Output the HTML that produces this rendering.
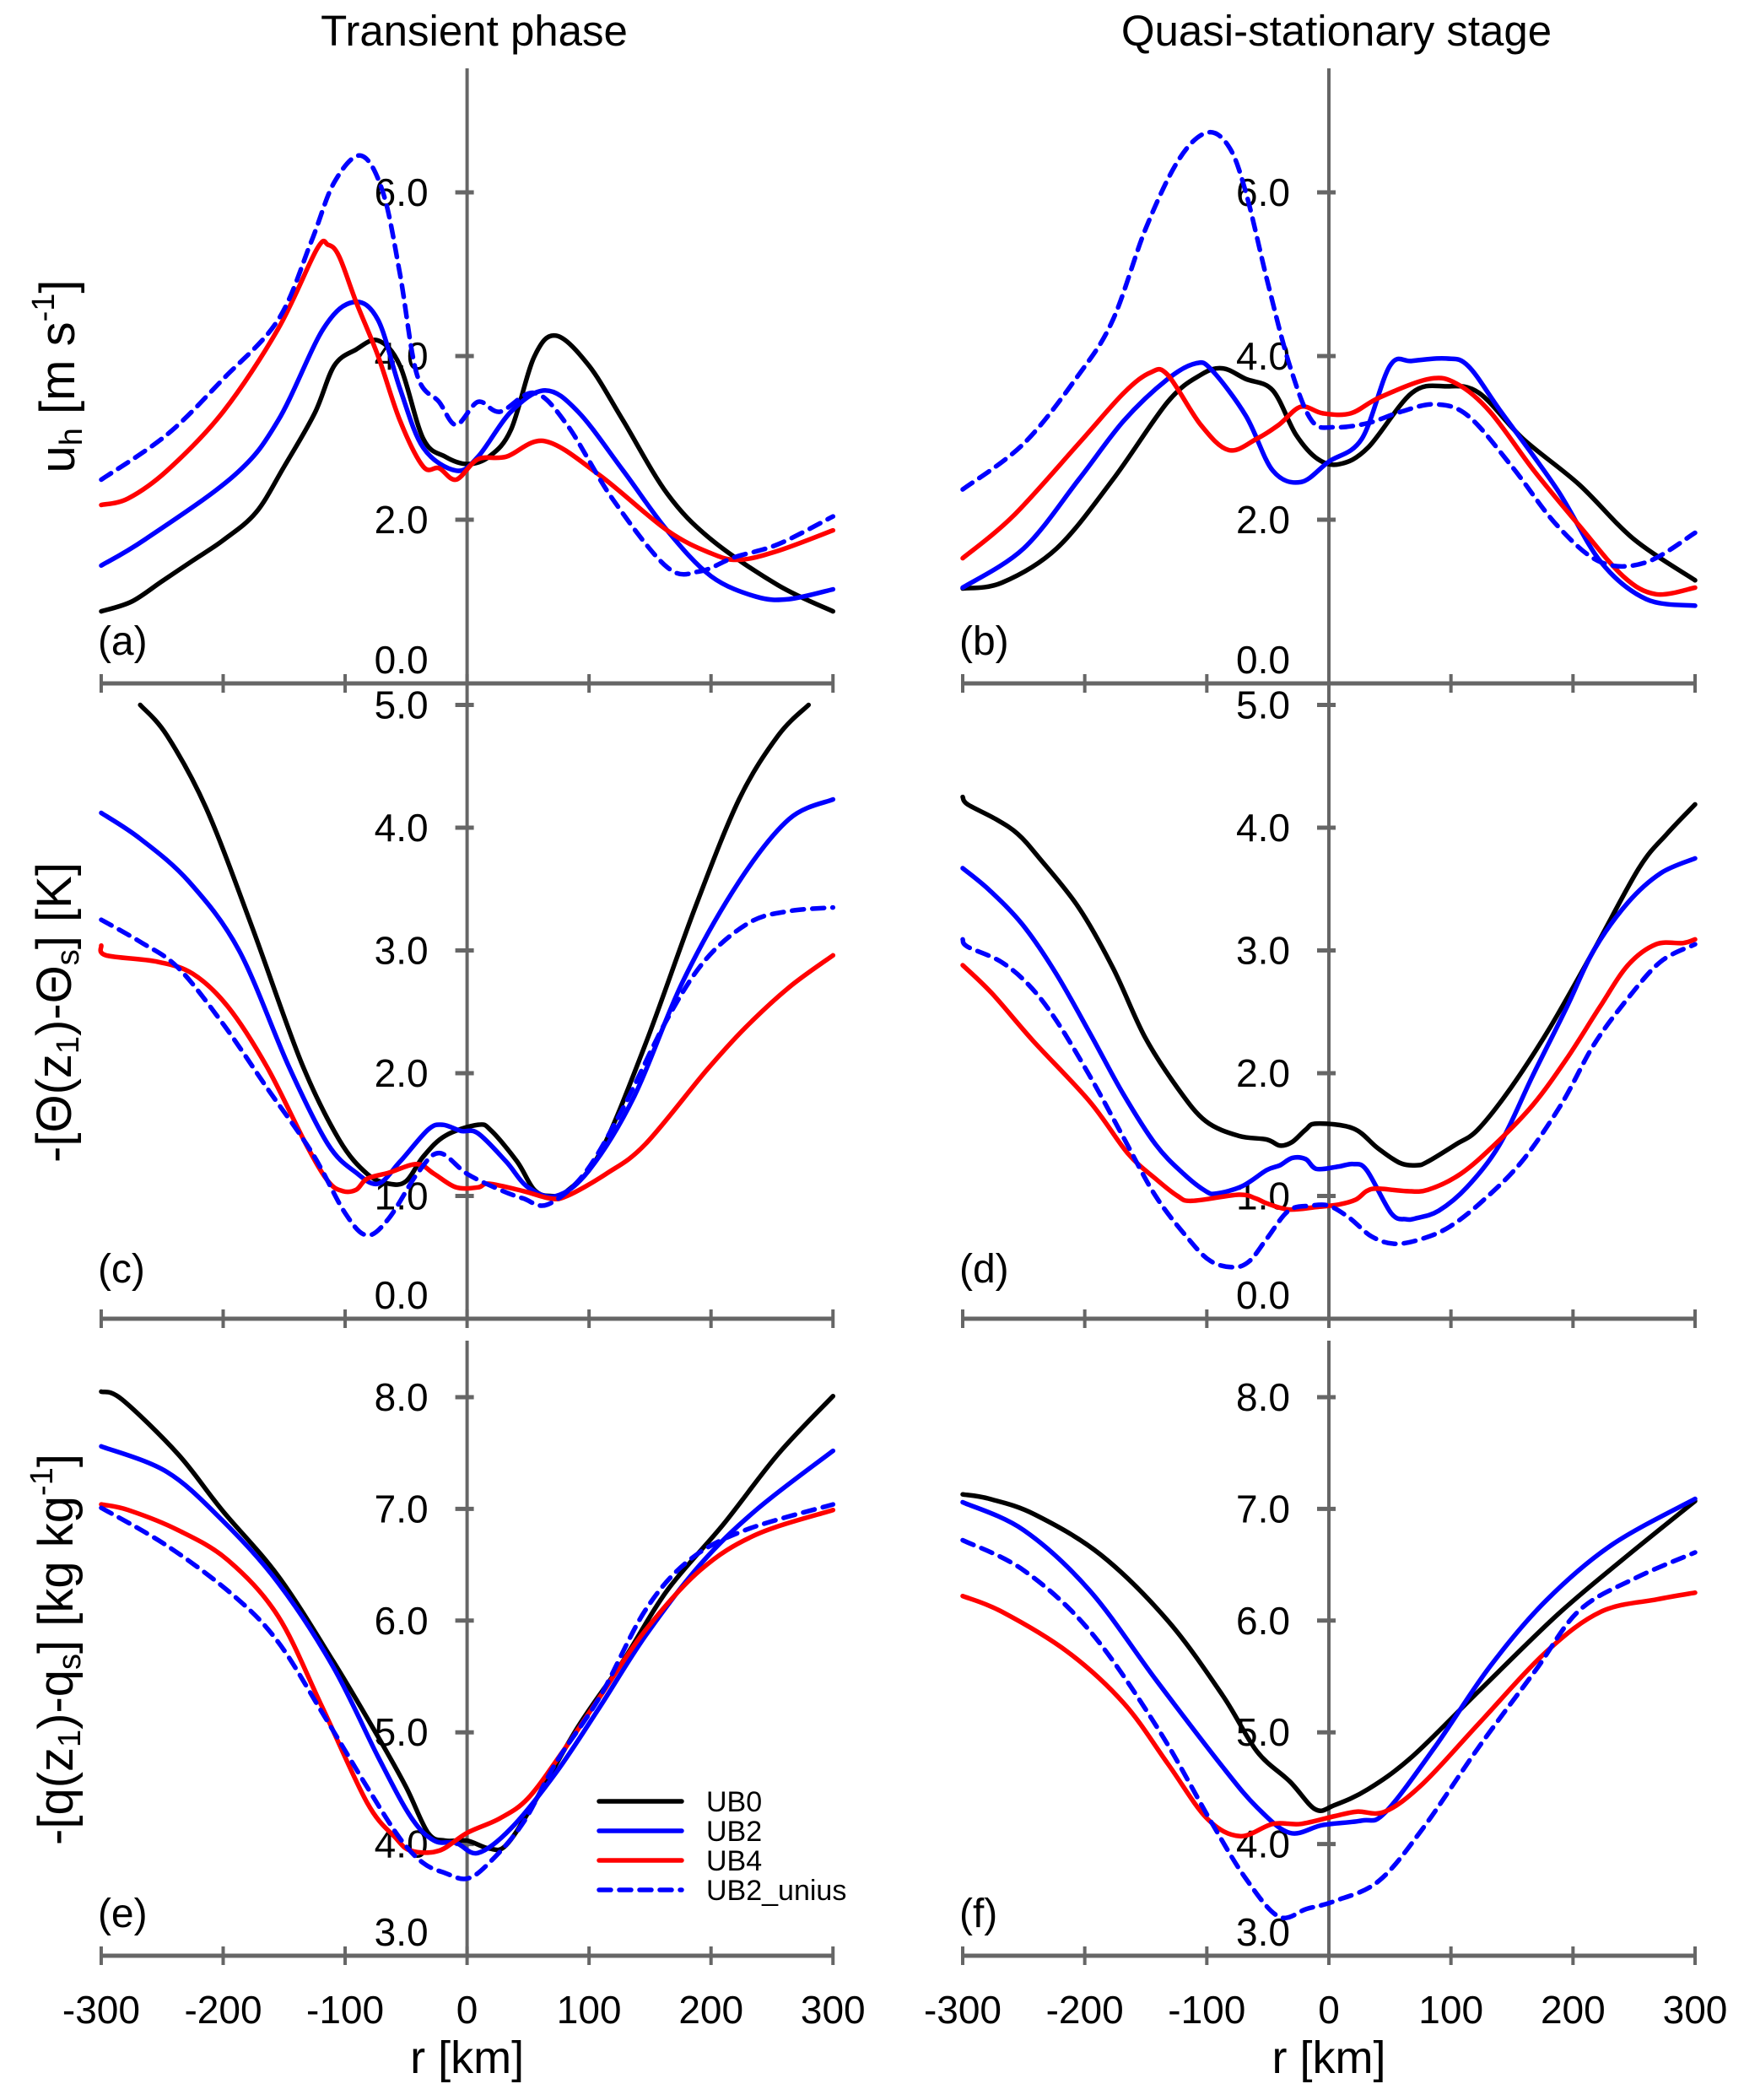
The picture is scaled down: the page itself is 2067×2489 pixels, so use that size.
<!DOCTYPE html>
<html><head><meta charset="utf-8">
<style>
html,body{margin:0;padding:0;background:#fff;}
svg{display:block;font-family:"Liberation Sans",Arial,sans-serif;}
</style></head>
<body>
<svg id="fig" width="2067" height="2489" viewBox="0 0 2067 2489" xmlns="http://www.w3.org/2000/svg">
<text x="562" y="54" font-size="51" text-anchor="middle">Transient phase</text>
<text x="1584" y="54" font-size="51" text-anchor="middle">Quasi-stationary stage</text>
<text transform="translate(88,446) rotate(-90)" font-size="58" text-anchor="middle">u<tspan font-size="38" dy="9">h</tspan><tspan dy="-9"> [m s</tspan><tspan font-size="38" dy="-24">-1</tspan><tspan dy="24">]</tspan></text>
<text transform="translate(84,1200) rotate(-90)" font-size="58" text-anchor="middle">-[Θ(z<tspan font-size="38" dy="9">1</tspan><tspan dy="-9">)-Θ</tspan><tspan font-size="38" dy="9">s</tspan><tspan dy="-9">] [K]</tspan></text>
<text transform="translate(86,1955) rotate(-90)" font-size="58" text-anchor="middle">-[q(z<tspan font-size="38" dy="9">1</tspan><tspan dy="-9">)-q</tspan><tspan font-size="38" dy="9">s</tspan><tspan dy="-9">] [kg kg</tspan><tspan font-size="38" dy="-24">-1</tspan><tspan dy="24">]</tspan></text>
<g id="panels"></g>
<g>
 <line x1="710" y1="2135" x2="808" y2="2135" stroke="#000" stroke-width="5.5" stroke-linecap="round"/>
 <text x="837" y="2147" font-size="34">UB0</text>
 <line x1="710" y1="2170" x2="808" y2="2170" stroke="#0000ff" stroke-width="5.5" stroke-linecap="round"/>
 <text x="837" y="2182" font-size="34">UB2</text>
 <line x1="710" y1="2205" x2="808" y2="2205" stroke="#ff0000" stroke-width="5.5" stroke-linecap="round"/>
 <text x="837" y="2217" font-size="34">UB4</text>
 <line x1="710" y1="2240" x2="808" y2="2240" stroke="#0000ff" stroke-width="5.5" stroke-dasharray="14 10" stroke-linecap="round"/>
 <text x="837" y="2252" font-size="34">UB2_unius</text>
</g>
</svg>
<script>
// x ticks
const xTicks = [-300,-200,-100,0,100,200,300];
const xTickLabels = ["-300","-200","-100","0","100","200","300"];
// y ticks per row
const yTicksA = [0,2,4,6];
const yTicksC = [0,1,2,3,4,5];
const yTicksE = [3,4,5,6,7,8];

// Panel a (transient, u_h)
const aR0 = [-300,-275,-250,-225,-200,-173,-150,-125,-109,-91,-73,-55,-36,-18,0,18,36,55,73,100,128,164,200,255,300];
const aV0 = [0.88,1.0,1.25,1.5,1.75,2.09,2.65,3.3,3.88,4.08,4.19,3.88,2.99,2.77,2.68,2.77,3.1,3.99,4.25,3.88,3.21,2.32,1.76,1.2,0.88];
const aR2 = [-300,-264,-191,-155,-118,-93,-73,-55,-36,-9,9,36,64,91,128,164,200,237,264,300];
const aV2 = [1.44,1.76,2.54,3.21,4.33,4.66,4.44,3.6,2.88,2.6,2.77,3.32,3.58,3.32,2.6,1.87,1.31,1.06,1.03,1.15];
const aR4 = [-300,-278,-246,-200,-155,-123,-114,-105,-91,-73,-55,-36,-23,-9,9,32,64,109,164,200,223,255,300];
const aV4 = [2.18,2.26,2.6,3.32,4.33,5.31,5.36,5.22,4.66,4.0,3.21,2.65,2.63,2.49,2.74,2.77,2.96,2.54,1.87,1.59,1.51,1.62,1.87];
const aRu = [-300,-246,-200,-155,-128,-109,-87,-69,-55,-41,-23,-9,9,27,55,82,119,164,191,219,255,300];
const aVu = [2.49,3.04,3.72,4.44,5.39,6.12,6.45,6.0,5.0,3.77,3.44,3.16,3.44,3.32,3.55,3.16,2.26,1.42,1.37,1.54,1.7,2.04];

// Panel b (quasi-stationary, u_h)
const bR0 = [-300,-268,-223,-177,-132,-105,-87,-68,-46,-27,-9,9,32,68,96,123,159,205,250,300];
const bV0 = [1.16,1.23,1.65,2.49,3.44,3.77,3.85,3.72,3.58,3.04,2.74,2.68,2.88,3.55,3.63,3.55,2.99,2.43,1.76,1.26];
const bR2 = [-300,-250,-205,-168,-132,-109,-96,-68,-46,-23,0,27,50,68,96,114,141,187,223,260,300];
const bV2 = [1.17,1.65,2.49,3.21,3.72,3.91,3.83,3.27,2.6,2.46,2.71,2.99,3.88,3.94,3.97,3.88,3.32,2.37,1.48,1.03,0.95];
const bR4 = [-300,-259,-205,-168,-146,-132,-105,-82,-59,-41,-23,-5,18,41,82,105,132,168,205,241,268,300];
const bV4 = [1.53,2.04,2.93,3.55,3.8,3.77,3.16,2.85,2.99,3.16,3.38,3.3,3.3,3.49,3.72,3.66,3.32,2.6,1.93,1.31,1.09,1.17];
const bRu = [-300,-250,-205,-177,-150,-123,-100,-82,-68,-50,-32,-14,5,32,59,87,114,150,187,223,260,300];
const bVu = [2.37,2.93,3.77,4.44,5.56,6.4,6.73,6.56,6.0,4.89,3.88,3.21,3.13,3.18,3.32,3.41,3.27,2.65,1.93,1.48,1.48,1.84];

// Panel c (transient, theta)
const cR0 = [-268,-246,-214,-177,-136,-105,-82,-64,-50,-36,-18,9,20,41,55,68,82,109,146,187,223,255,280];
const cV0 = [5.0,4.75,4.16,3.21,2.09,1.46,1.18,1.1,1.12,1.32,1.49,1.58,1.53,1.28,1.05,1.0,1.04,1.35,2.23,3.35,4.23,4.75,5.0];
const cR2 = [-300,-268,-228,-187,-146,-114,-91,-73,-55,-32,-20,-5,9,32,50,73,100,137,177,223,264,300];
const cV2 = [4.12,3.91,3.56,3.0,2.05,1.42,1.19,1.1,1.28,1.54,1.58,1.53,1.51,1.28,1.07,1.0,1.21,1.81,2.75,3.56,4.07,4.23];
const cR4 = [-300,-296,-255,-225,-196,-164,-132,-114,-102,-91,-82,-64,-41,-27,-9,9,18,46,68,82,114,146,196,228,264,300];
const cV4 = [3.04,2.96,2.91,2.81,2.54,2.05,1.42,1.12,1.04,1.05,1.14,1.19,1.26,1.18,1.07,1.07,1.1,1.04,0.98,1.0,1.18,1.42,2.02,2.37,2.7,2.96];
const cRu = [-300,-268,-237,-200,-164,-127,-100,-82,-64,-41,-23,0,27,46,66,96,127,164,196,232,264,300];
const cVu = [3.25,3.07,2.86,2.4,1.88,1.35,0.86,0.68,0.82,1.18,1.35,1.18,1.05,0.98,0.93,1.18,1.7,2.44,2.93,3.23,3.32,3.35];

// Panel d (quasi-stationary, theta)
const dR0 = [-300,-296,-273,-255,-237,-205,-177,-151,-124,-101,-74,-51,-40,-30,-19,-10,20,40,58,72,81,104,122,149,181,217,254,277,300];
const dV0 = [4.25,4.19,4.07,3.95,3.75,3.35,2.86,2.3,1.88,1.61,1.49,1.46,1.41,1.44,1.54,1.59,1.55,1.39,1.27,1.25,1.28,1.42,1.54,1.88,2.37,3.0,3.67,3.95,4.19];
const dR2 = [-300,-278,-251,-224,-196,-169,-142,-119,-101,-92,-71,-51,-40,-30,-19,-10,8,20,31,51,63,72,90,113,140,167,195,217,245,272,300];
const dV2 = [3.67,3.49,3.21,2.82,2.33,1.84,1.42,1.18,1.04,1.02,1.08,1.21,1.25,1.31,1.3,1.22,1.24,1.26,1.21,0.86,0.81,0.82,0.88,1.07,1.42,1.98,2.54,3.0,3.39,3.63,3.75];
const dR4 = [-300,-276,-242,-196,-165,-142,-124,-112,-74,-60,-51,-33,-10,8,22,31,40,63,81,108,136,167,195,222,245,268,290,300];
const dV4 = [2.88,2.65,2.26,1.77,1.35,1.14,1.0,0.96,1.01,0.98,0.94,0.89,0.91,0.93,0.97,1.04,1.06,1.04,1.05,1.18,1.42,1.74,2.12,2.54,2.88,3.05,3.06,3.09];
const dRu = [-300,-296,-269,-246,-224,-196,-169,-142,-115,-97,-78,-65,-51,-33,-15,0,17,35,54,76,99,126,158,190,217,245,272,300];
const dVu = [3.09,3.03,2.91,2.72,2.44,1.98,1.49,1.0,0.65,0.47,0.42,0.47,0.65,0.88,0.92,0.92,0.82,0.67,0.61,0.65,0.75,0.96,1.28,1.74,2.23,2.61,2.91,3.05];

// Panel e (transient, q)
const eR0 = [-300,-283,-237,-201,-155,-110,-73,-50,-32,-18,0,18,32,55,91,128,164,210,255,300];
const eV0 = [8.05,7.98,7.49,6.99,6.4,5.64,4.96,4.51,4.1,4.03,4.03,3.96,3.99,4.37,5.05,5.64,6.27,6.86,7.49,8.01];
const eR2 = [-300,-246,-201,-155,-110,-73,-46,-27,-9,9,36,73,109,146,191,237,300];
const eV2 = [7.56,7.33,6.9,6.34,5.59,4.78,4.24,4.03,4.01,3.92,4.14,4.64,5.23,5.86,6.5,6.99,7.52];
const eR4 = [-300,-278,-237,-196,-155,-119,-82,-59,-46,-23,0,27,50,78,109,146,191,237,300];
const eV4 = [7.04,6.99,6.81,6.54,6.04,5.23,4.37,4.06,3.94,3.94,4.1,4.23,4.41,4.82,5.32,5.91,6.45,6.77,6.99];
const eRu = [-300,-246,-191,-155,-119,-82,-55,-36,-18,0,18,46,73,109,146,182,228,300];
const eVu = [7.01,6.67,6.22,5.81,5.18,4.51,4.05,3.83,3.74,3.69,3.83,4.19,4.73,5.32,6.09,6.54,6.81,7.04];

// Panel f (quasi-stationary, q)
const fR0 = [-300,-278,-241,-187,-132,-87,-59,-32,-11,5,32,68,123,187,241,300];
const fV0 = [7.13,7.09,6.95,6.59,6.0,5.33,4.83,4.56,4.31,4.35,4.49,4.78,5.37,6.05,6.55,7.07];
const fR2 = [-300,-250,-196,-141,-87,-59,-32,-5,27,46,87,132,178,232,300];
const fV2 = [7.06,6.81,6.27,5.46,4.69,4.33,4.1,4.17,4.21,4.28,4.87,5.59,6.18,6.68,7.09];
const fR4 = [-300,-268,-214,-168,-132,-100,-73,-46,-23,5,23,46,77,123,178,223,269,300];
const fV4 = [6.22,6.08,5.72,5.26,4.72,4.23,4.07,4.18,4.18,4.25,4.29,4.29,4.54,5.08,5.72,6.08,6.19,6.25];
const fRu = [-300,-250,-196,-141,-96,-68,-41,-18,5,41,77,123,169,205,251,300];
const fVu = [6.72,6.45,5.91,5.05,4.19,3.69,3.35,3.42,3.49,3.67,4.14,4.87,5.55,6.09,6.38,6.61];

const NS = "http://www.w3.org/2000/svg";
const root = document.getElementById("panels");
function mk(tag, attrs, parent){
  const e = document.createElementNS(NS, tag);
  for (const k in attrs) e.setAttribute(k, attrs[k]);
  parent.appendChild(e);
  return e;
}
function smoothPath(pts){
  let d = "M" + pts[0][0].toFixed(1) + " " + pts[0][1].toFixed(1);
  for (let i = 0; i < pts.length - 1; i++) {
    const p0 = pts[i-1] || pts[i], p1 = pts[i], p2 = pts[i+1], p3 = pts[i+2] || p2;
    const c1x = p1[0] + (p2[0]-p0[0])/6, c1y = p1[1] + (p2[1]-p0[1])/6;
    const c2x = p2[0] - (p3[0]-p1[0])/6, c2y = p2[1] - (p3[1]-p1[1])/6;
    d += " C" + c1x.toFixed(1) + " " + c1y.toFixed(1) + " " + c2x.toFixed(1) + " " + c2y.toFixed(1) + " " + p2[0].toFixed(1) + " " + p2[1].toFixed(1);
  }
  return d;
}
const cols = [{x0:553.6, k:1.4455}, {x0:1575, k:1.4467}];
const rows = [
  {y0:810, ppu:97, vmin:0, top:81, ticks:yTicksA},
  {y0:1563, ppu:145.5, vmin:0, top:821, ticks:yTicksC},
  {y0:2318, ppu:132.4, vmin:3, top:1589, ticks:yTicksE}
];
const panels = [
  {id:"a", row:0, col:0, s:[[aR0,aV0],[aR2,aV2],[aR4,aV4],[aRu,aVu]]},
  {id:"b", row:0, col:1, s:[[bR0,bV0],[bR2,bV2],[bR4,bV4],[bRu,bVu]]},
  {id:"c", row:1, col:0, s:[[cR0,cV0],[cR2,cV2],[cR4,cV4],[cRu,cVu]]},
  {id:"d", row:1, col:1, s:[[dR0,dV0],[dR2,dV2],[dR4,dV4],[dRu,dVu]]},
  {id:"e", row:2, col:0, s:[[eR0,eV0],[eR2,eV2],[eR4,eV4],[eRu,eVu]]},
  {id:"f", row:2, col:1, s:[[fR0,fV0],[fR2,fV2],[fR4,fV4],[fRu,fVu]]}
];
const styles = [
  {c:"#000", d:null, n:"ub0"},
  {c:"#0000ff", d:null, n:"ub2"},
  {c:"#ff0000", d:null, n:"ub4"},
  {c:"#0000ff", d:"14 10", n:"ub2-unius"}
];
const AX = "#666";
panels.forEach(p => {
  const C = cols[p.col], R = rows[p.row];
  const xs = r => C.x0 + r*C.k;
  const ys = v => R.y0 - (v - R.vmin)*R.ppu;
  const g = mk("g", {}, root);
  
  
  const xa = mk("line", {x1:xs(-300), x2:xs(300), y1:R.y0, y2:R.y0, stroke:AX, "stroke-width":5}, g);
  
  
  xTicks.forEach(t => {
    const tk = mk("line", {x1:xs(t), x2:xs(t), y1:R.y0-11, y2:R.y0+11, stroke:AX, "stroke-width":4}, g);
    
    
  });
  const ya = mk("line", {x1:xs(0), x2:xs(0), y1:R.top, y2:R.y0, stroke:AX, "stroke-width":4}, g);
  
  
  R.ticks.forEach((t, i) => {
    const tk = mk("line", {x1:xs(0)-14, x2:xs(0)+8, y1:ys(t), y2:ys(t), stroke:AX, "stroke-width":5}, g);
    
    
    const lb = mk("text", {x:xs(0)-46, y: i===0 ? ys(t)-12 : ys(t)+16, "font-size":46, "text-anchor":"end"}, g);
    
    
    lb.textContent = t.toFixed(1);
  });
  p.s.forEach((sr, si) => {
    const st = styles[si];
    const pts = sr[0].map((r, i) => [xs(r), ys(sr[1][i])]);
    const attrs = {d:smoothPath(pts), fill:"none", stroke:st.c, "stroke-width":5.5, "stroke-linejoin":"round", "stroke-linecap":"round"};
    if (st.d) attrs["stroke-dasharray"] = st.d;
    const pa = mk("path", attrs, g);
    
    
  });
  const pl = mk("text", {x:xs(-300)-4, y:(p.row===1 ? 1520 : R.y0-34), "font-size":48}, g);
  
  
  pl.textContent = "(" + p.id + ")";
  if (p.row === 2) {
    xTicks.forEach((t, i) => {
      const lb = mk("text", {x:xs(t), y:2398, "font-size":46, "text-anchor":"middle"}, g);
      
      
      lb.textContent = xTickLabels[i];
    });
    const xt = mk("text", {x:xs(0), y:2457, "font-size":54, "text-anchor":"middle"}, g);
    
    
    xt.textContent = "r [km]";
  }
});
</script>
</body></html>
